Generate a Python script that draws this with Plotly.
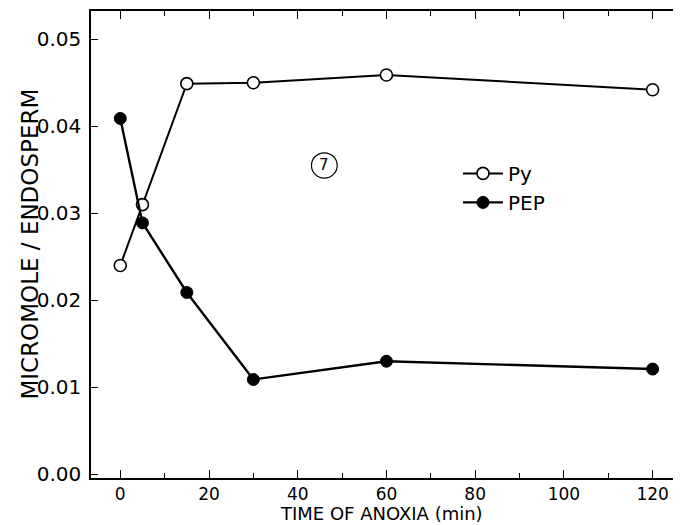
import plotly.graph_objects as go

time_min = [0, 5, 15, 30, 60, 120]
py_vals = [0.024, 0.031, 0.0449, 0.0450, 0.0459, 0.0442]
pep_vals = [0.0409, 0.0289, 0.0209, 0.0109, 0.0130, 0.0121]

x_ticks = [0, 20, 40, 60, 80, 100, 120]
y_ticks = [0.00, 0.01, 0.02, 0.03, 0.04, 0.05]
y_tick_labels = ["0.00", "0.01", "0.02", "0.03", "0.04", "0.05"]

FONT = "DejaVu Sans"

fig = go.Figure()
fig.add_trace(go.Scatter(
    x=time_min, y=py_vals, mode="lines+markers", name="Py",
    line=dict(color="black", width=2),
    marker=dict(symbol="circle", size=12, color="white",
                line=dict(color="black", width=1.6)),
))
fig.add_trace(go.Scatter(
    x=time_min, y=pep_vals, mode="lines+markers", name="PEP",
    line=dict(color="black", width=2.4),
    marker=dict(symbol="circle", size=12, color="black",
                line=dict(color="black", width=1)),
))

# circled panel number
cx, cy = 46.0, 0.0355
fig.add_shape(type="circle", xref="x", yref="y",
              x0=cx - 2.9, x1=cx + 2.9, y0=cy - 0.00145, y1=cy + 0.00145,
              line=dict(color="black", width=1.2))
fig.add_annotation(x=cx, y=cy, xref="x", yref="y", text="7", showarrow=False,
                   font=dict(family=FONT, size=15, color="black"))

# axis titles
fig.add_annotation(x=0.493, y=-0.1006, xref="paper", yref="paper",
                   text="TIME OF ANOXIA (min)", showarrow=False,
                   xanchor="center", yanchor="bottom", borderpad=0,
                   font=dict(family=FONT, size=18, color="black"))
fig.add_annotation(x=-0.105, y=0.5, xref="paper", yref="paper",
                   text="MICROMOLE / ENDOSPERM", showarrow=False, textangle=-90,
                   xanchor="center", yanchor="middle",
                   font=dict(family=FONT, size=23, color="black"))

# page body has an 8px default margin, so the figure is 8px smaller
fig.update_layout(
    width=673, height=517,
    margin=dict(l=83, r=0, t=3, b=47),
    paper_bgcolor="white", plot_bgcolor="white",
    font=dict(family=FONT, color="black"),
    showlegend=True,
    legend=dict(x=0.622, y=0.694, xanchor="left", yanchor="top",
                bgcolor="rgba(0,0,0,0)", itemwidth=40, tracegroupgap=0,
                font=dict(family=FONT, size=20, color="black")),
)
fig.update_xaxes(
    range=[-6.6, 126.4], tickvals=x_ticks, ticks="inside", ticklen=8,
    tickwidth=1.2, tickcolor="black", automargin=False,
    minor=dict(dtick=10, ticks="inside", ticklen=5, tickwidth=1.2, tickcolor="black", showgrid=False),
    showline=True, linecolor="black", linewidth=1.5, mirror="allticks",
    showgrid=False, zeroline=False,
    tickfont=dict(family=FONT, size=17, color="black"),
)
fig.update_yaxes(
    range=[-0.00042, 0.05325], tickvals=y_ticks, ticktext=y_tick_labels,
    ticks="inside", ticklen=7, tickwidth=1.2, tickcolor="black", automargin=False,
    ticklabelstandoff=4,
    showline=True, linecolor="black", linewidth=1.5, mirror="allticks",
    showgrid=False, zeroline=False,
    tickfont=dict(family=FONT, size=20, color="black"),
)

fig.write_html("out.html")
